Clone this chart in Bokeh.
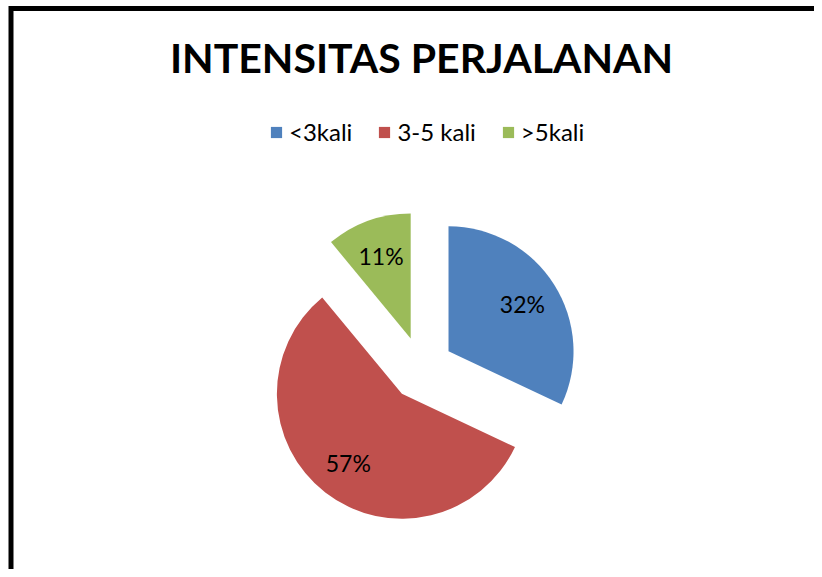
import numpy as np
from bokeh.plotting import figure
from bokeh.models import ColumnDataSource, Legend, LegendItem, Range1d
from bokeh.core.properties import value
from bokeh.embed import file_html
from bokeh.resources import INLINE

# ---- data ----
title_text = "INTENSITAS PERJALANAN"
categories = ["<3kali", "3-5 kali", ">5kali"]
values = [32, 57, 11]
colors = ["#4F81BD", "#C0504D", "#9BBB59"]

# ---- layout constants (pixels) ----
W, H = 814, 569
CX, CY = 421, 201      # pie centre
R = 125                # radius
EXPLODE = 32           # explosion distance
LABEL_R = 0.7 * R

p = figure(width=W, height=H, output_backend="svg", toolbar_location=None,
           x_range=Range1d(0, W), y_range=Range1d(0, H), min_border=0)
p.axis.visible = False
p.grid.visible = False
p.outline_line_color = None
p.background_fill_color = "white"
p.border_fill_color = "white"

vals = np.array(values, dtype=float)
frac = vals / vals.sum()
cum_end = np.cumsum(frac)
cum_start = cum_end - frac
start = np.pi / 2 - cum_start * 2 * np.pi
end = np.pi / 2 - cum_end * 2 * np.pi
mid = (start + end) / 2
xs = CX + EXPLODE * np.cos(mid)
ys = CY + EXPLODE * np.sin(mid)
lx = xs + LABEL_R * np.cos(mid)
ly = ys + LABEL_R * np.sin(mid)
labels = [f"{round(f * 100):d}%" for f in frac]

src = ColumnDataSource(dict(x=xs, y=ys, start=start, end=end, color=colors,
                            cat=categories, lx=lx, ly=ly, label=labels))

r = p.wedge(x="x", y="y", radius=R, start_angle="start", end_angle="end",
            direction="clock", fill_color="color", line_color=None, source=src)

p.text(x="lx", y="ly", text="label", source=src, text_font=value("Lato"),
       text_font_size="23px", text_align="center", text_baseline="middle",
       text_color="black")

# title
p.text(x=[CX], y=[512], text=[title_text], text_font=value("Lato"),
       text_font_style="bold", text_font_size="41px", text_align="center",
       text_baseline="alphabetic", text_color="black")

legend = Legend(items=[LegendItem(label=c, renderers=[r], index=i)
                       for i, c in enumerate(categories)],
                orientation="horizontal", location=(269, 423),
                glyph_width=14, glyph_height=14, label_standoff=6, spacing=25,
                padding=0, margin=0, border_line_color=None,
                background_fill_alpha=0,
                label_text_font="Lato", label_text_font_size="24px",
                label_text_color="black")
p.add_layout(legend, "center")

# chart border (left and top edges of the chart area are visible)
p.line(x=[10.5, 10.5, W + 10], y=[-10, H - 8, H - 8], line_color="black",
       line_width=5, line_join="miter")

open("out.html", "w").write(file_html(p, INLINE))
